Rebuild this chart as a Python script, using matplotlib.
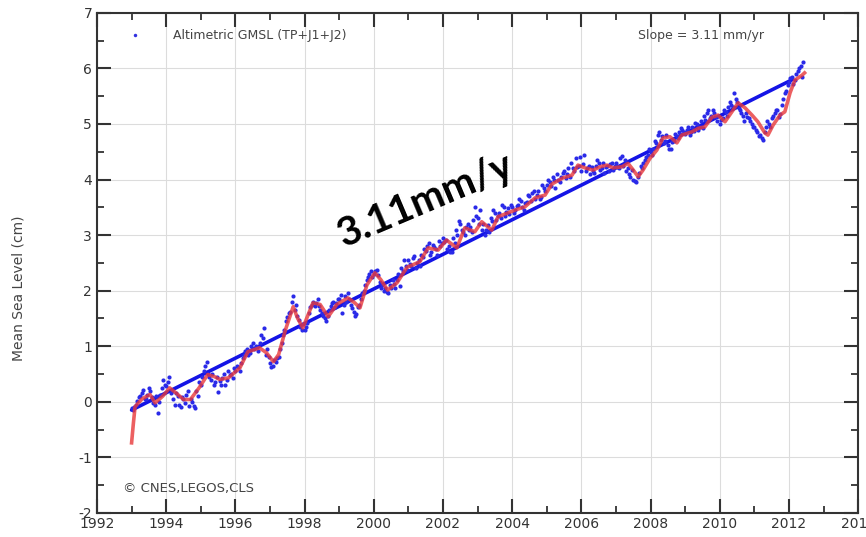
import numpy as np
import matplotlib
matplotlib.use("Agg")
import matplotlib.pyplot as plt
from matplotlib.ticker import MultipleLocator

plt.rcParams["axes.unicode_minus"] = False

# Smoothed GMSL curve (red)
smooth_years = [1993.00, 1993.05, 1993.10, 1993.30, 1993.53, 1993.68, 1993.90, 1994.10, 1994.30,
                1994.50, 1994.70, 1994.95, 1995.20, 1995.40, 1995.55, 1995.80, 1996.13, 1996.36,
                1996.70, 1996.90, 1997.10, 1997.25, 1997.45, 1997.67, 1997.80, 1997.95, 1998.24,
                1998.45, 1998.68, 1998.93, 1999.25, 1999.45, 1999.60, 1999.80, 2000.03, 2000.20,
                2000.40, 2000.67, 2000.96, 2001.33, 2001.57, 2001.86, 2002.10, 2002.40, 2002.63,
                2002.92, 2003.12, 2003.41, 2003.59, 2003.88, 2004.08, 2004.37, 2004.66, 2004.95,
                2005.15, 2005.47, 2005.73, 2005.90, 2006.10, 2006.34, 2006.54, 2006.74, 2006.91,
                2007.17, 2007.35, 2007.50, 2007.64, 2007.78, 2007.98, 2008.18, 2008.36, 2008.56,
                2008.76, 2008.90, 2009.20, 2009.37, 2009.57, 2009.77, 2009.95, 2010.15, 2010.35,
                2010.53, 2010.73, 2010.93, 2011.10, 2011.30, 2011.39, 2011.54, 2011.74, 2011.88,
                2012.03, 2012.17, 2012.38, 2012.45]
smooth_values = [-0.74, -0.40, -0.09, 0.05, 0.13, -0.02, 0.10, 0.25, 0.15,
                 0.04, 0.04, 0.25, 0.49, 0.45, 0.40, 0.43, 0.61, 0.90,
                 0.97, 0.88, 0.72, 0.85, 1.30, 1.71, 1.50, 1.33, 1.78,
                 1.75, 1.53, 1.75, 1.87, 1.78, 1.69, 2.10, 2.32, 2.20,
                 2.01, 2.14, 2.42, 2.52, 2.77, 2.73, 2.91, 2.77, 3.13,
                 3.06, 3.24, 3.09, 3.33, 3.40, 3.45, 3.51, 3.67, 3.72,
                 3.92, 4.03, 4.08, 4.26, 4.21, 4.17, 4.23, 4.26, 4.21,
                 4.23, 4.29, 4.17, 4.05, 4.17, 4.38, 4.53, 4.75, 4.77,
                 4.66, 4.80, 4.86, 4.92, 4.95, 5.12, 5.16, 5.04, 5.22,
                 5.38, 5.29, 5.16, 5.04, 4.84, 4.80, 4.98, 5.16, 5.22,
                 5.56, 5.79, 5.88, 5.92]

# Individual altimetric GMSL values (blue dots): two monthly sets,
# the first starting 1993.0, the second half a month later
dots_start = 1993.0
dots_per_year = 12
dot_values = [
    -0.12, -0.10, 0.02, 0.10, 0.22, 0.05, 0.25, 0.08, -0.05, -0.20, 0.12, 0.40,
    0.28, 0.45, 0.20, -0.05, 0.10, -0.10, 0.05, 0.12, -0.08, 0.00, -0.12, 0.10,
    0.30, 0.55, 0.72, 0.45, 0.50, 0.35, 0.18, 0.31, 0.50, 0.40, 0.48, 0.43,
    0.55, 0.62, 0.70, 0.85, 0.95, 0.88, 1.06, 1.00, 0.92, 1.21, 1.33, 0.95,
    0.70, 0.65, 0.72, 0.80, 1.05, 1.30, 1.52, 1.62, 1.90, 1.75, 1.48, 1.30,
    1.30, 1.42, 1.70, 1.80, 1.78, 1.72, 1.60, 1.50, 1.55, 1.72, 1.80, 1.78,
    1.85, 1.60, 1.90, 1.95, 1.75, 1.62, 1.58, 1.75, 1.95, 2.10, 2.25, 2.35,
    2.30, 2.38, 2.15, 2.10, 2.05, 1.95, 2.05, 2.12, 2.20, 2.08, 2.35, 2.45,
    2.55, 2.45, 2.62, 2.50, 2.45, 2.60, 2.72, 2.85, 2.70, 2.78, 2.65, 2.80,
    2.95, 2.92, 2.80, 2.70, 2.85, 3.00, 3.20, 3.05, 3.15, 3.10, 3.05, 3.50,
    3.30, 3.45, 3.20, 3.10, 3.05, 3.25, 3.40, 3.35, 3.30, 3.50, 3.42, 3.38,
    3.50, 3.45, 3.55, 3.62, 3.45, 3.60, 3.70, 3.75, 3.65, 3.80, 3.68, 3.85,
    3.90, 3.95, 4.05, 3.85, 4.00, 4.05, 4.15, 4.10, 4.05, 4.20, 4.38, 4.25,
    4.15, 4.45, 4.20, 4.10, 4.15, 4.25, 4.30, 4.20, 4.12, 4.25, 4.28, 4.18,
    4.30, 4.20, 4.42, 4.35, 4.20, 4.05, 4.00, 3.95, 4.12, 4.20, 4.35, 4.45,
    4.50, 4.55, 4.65, 4.85, 4.78, 4.70, 4.62, 4.55, 4.70, 4.78, 4.85, 4.90,
    4.82, 4.95, 4.85, 4.88, 5.00, 4.95, 4.92, 5.08, 5.25, 5.15, 5.20, 5.05,
    5.00, 5.10, 5.22, 5.30, 5.35, 5.55, 5.40, 5.25, 5.15, 5.20, 5.10, 5.00,
    4.95, 4.85, 4.80, 4.72, 4.95, 5.00, 5.10, 5.20, 5.25, 5.18, 5.45, 5.60,
    5.75, 5.85, 5.80, 5.95, 6.05, 6.12,
]
dots_mid_start = 1993.042
dot_values_mid = [
    -0.15, -0.05, 0.08, 0.15, 0.05, 0.12, 0.20, -0.02, 0.10, 0.00, 0.25, 0.30,
    0.35, 0.15, 0.05, 0.15, -0.05, 0.08, -0.02, 0.20, 0.05, -0.08, 0.20, 0.35,
    0.45, 0.65, 0.50, 0.40, 0.30, 0.45, 0.38, 0.42, 0.30, 0.55, 0.50, 0.60,
    0.65, 0.55, 0.78, 0.92, 0.85, 1.00, 0.95, 0.98, 1.05, 1.15, 0.85, 0.80,
    0.62, 0.75, 0.78, 0.95, 1.20, 1.45, 1.60, 1.80, 1.65, 1.55, 1.35, 1.40,
    1.35, 1.60, 1.75, 1.72, 1.85, 1.65, 1.55, 1.45, 1.65, 1.78, 1.70, 1.85,
    1.92, 1.75, 1.80, 1.85, 1.68, 1.55, 1.70, 1.85, 2.00, 2.20, 2.30, 2.25,
    2.35, 2.28, 2.05, 2.00, 1.98, 2.10, 2.20, 2.05, 2.30, 2.40, 2.55, 2.38,
    2.48, 2.58, 2.40, 2.55, 2.65, 2.75, 2.80, 2.65, 2.82, 2.75, 2.90, 2.85,
    2.88, 2.75, 2.70, 2.95, 3.10, 3.25, 3.10, 3.00, 3.20, 3.15, 3.28, 3.35,
    3.20, 3.10, 3.00, 3.18, 3.30, 3.45, 3.28, 3.40, 3.55, 3.35, 3.48, 3.55,
    3.40, 3.52, 3.65, 3.50, 3.58, 3.72, 3.62, 3.80, 3.72, 3.65, 3.90, 3.80,
    4.00, 3.88, 4.00, 4.10, 3.95, 4.12, 4.02, 4.20, 4.30, 4.15, 4.22, 4.40,
    4.28, 4.15, 4.25, 4.22, 4.12, 4.35, 4.18, 4.30, 4.22, 4.15, 4.30, 4.25,
    4.22, 4.38, 4.25, 4.15, 4.10, 4.18, 3.98, 4.05, 4.25, 4.30, 4.40, 4.55,
    4.45, 4.70, 4.80, 4.72, 4.65, 4.80, 4.55, 4.68, 4.82, 4.75, 4.92, 4.85,
    4.90, 4.80, 4.95, 5.02, 4.90, 5.05, 5.15, 5.20, 5.10, 5.25, 5.12, 5.15,
    5.08, 5.25, 5.15, 5.40, 5.30, 5.45, 5.28, 5.20, 5.05, 5.12, 5.05, 4.95,
    4.90, 4.78, 4.75, 4.85, 5.05, 4.95, 5.15, 5.25, 5.12, 5.35, 5.55, 5.70,
    5.82, 5.72, 5.90, 6.00, 5.85,
]

# Linear trend (blue line)
trend_years = [1993.0, 2012.1]
trend_values = [-0.15, 5.80]

x_ticks = [1992, 1994, 1996, 1998, 2000, 2002, 2004, 2006, 2008, 2010, 2012, 2014]
y_ticks = [-2, -1, 0, 1, 2, 3, 4, 5, 6, 7]

dot_years = dots_start + np.arange(len(dot_values)) / dots_per_year
dot_years_mid = dots_mid_start + np.arange(len(dot_values_mid)) / dots_per_year

fig = plt.figure(figsize=(8.66, 5.37), dpi=100)
ax = fig.add_axes([0.112, 0.045, 0.879, 0.931])

ax.plot(trend_years, trend_values, color="#1414e6", lw=2.6, zorder=3, solid_capstyle="round")
dot_style = dict(ls="none", marker="o", ms=3.0, color="#2a2ae8", markeredgewidth=0, zorder=4)
ax.plot(dot_years, dot_values, **dot_style)
ax.plot(dot_years_mid, dot_values_mid, **dot_style)
ax.plot(smooth_years, smooth_values, color="#e8383a", lw=2.6, alpha=0.8, zorder=5)

ax.set_xlim(1992, 2014)
ax.set_ylim(-2, 7)
ax.set_xticks(x_ticks)
ax.set_yticks(y_ticks)
ax.xaxis.set_minor_locator(MultipleLocator(1))
ax.yaxis.set_minor_locator(MultipleLocator(0.5))
ax.tick_params(which="major", direction="in", length=10, width=1.5, top=True, right=True,
               labelsize=10, labelcolor="#333333", colors="#333333")
ax.tick_params(which="minor", direction="in", length=5, width=1.3, top=True, right=True,
               colors="#333333")
ax.tick_params(axis="x", pad=3)
for s in ax.spines.values():
    s.set_linewidth(1.5)
    s.set_color("#333333")
ax.grid(True, which="major", color="#dcdcdc", lw=0.8)

ax.set_ylabel("Mean Sea Level (cm)", fontsize=10, color="#444444")
ax.yaxis.set_label_coords(-0.094, 0.45)

ax.plot([1993.1], [6.6], ls="none", marker="o", ms=2.5, color="#3030e0", markeredgewidth=0)
ax.text(1994.2, 6.6, "Altimetric GMSL (TP+J1+J2)", fontsize=9, color="#444444", va="center")
ax.text(2007.65, 6.6, "Slope = 3.11 mm/yr", fontsize=9, color="#444444", va="center")
ax.text(1992.75, -1.57, "\u00a9 CNES,LEGOS,CLS", fontsize=9.5, color="#444444", va="center")

ax.text(2001.5, 3.62, "3.11mm/y", fontsize=29, fontweight="bold", color="black",
        rotation=23, ha="center", va="center", rotation_mode="anchor",
        family="Lato", zorder=6)

fig.savefig("out.png", dpi=100)
